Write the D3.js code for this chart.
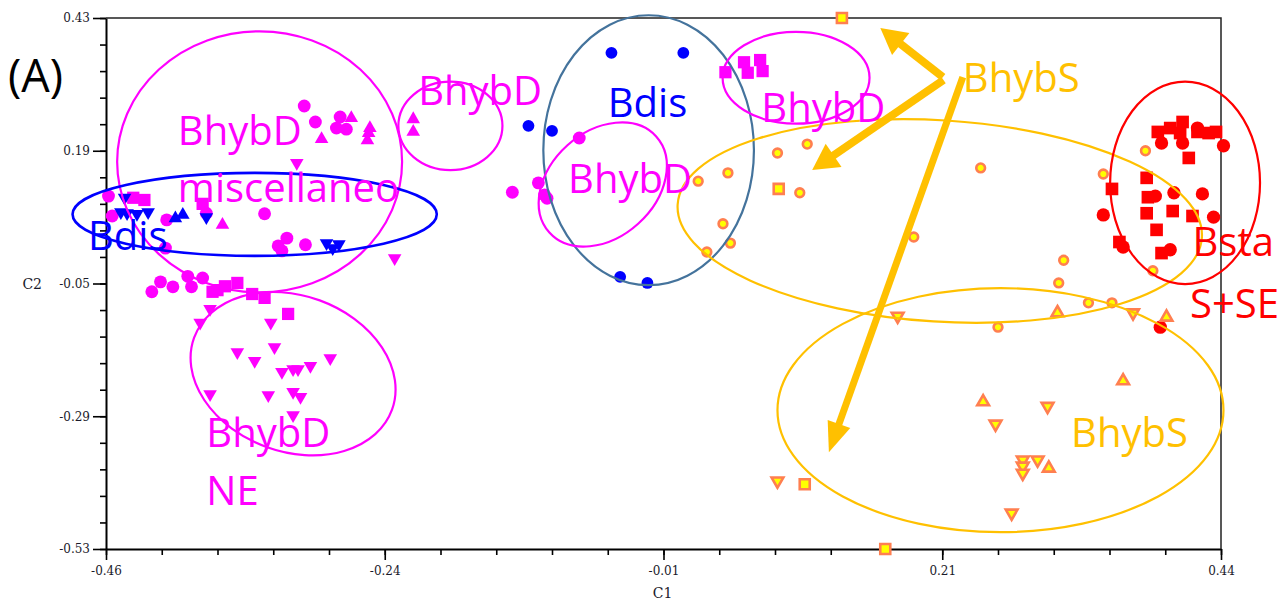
<!DOCTYPE html>
<html>
<head>
<meta charset="utf-8">
<script src="https://cdn.jsdelivr.net/npm/d3@7"></script>
<style>
  body { margin: 0; background: #fff; }
  svg { display: block; }
</style>
</head>
<body>
<svg id="chart" width="1288" height="605"></svg>
<script>
// ---- axis ticks -----------------------------------------------------------
const xMajor = [-0.46, -0.235, -0.01, 0.215, 0.44];
const xMajorLabels = ["-0.46", "-0.24", "-0.01", "0.21", "0.44"];
const yMajor = [0.43, 0.19, -0.05, -0.29, -0.53];
const yMajorLabels = ["0.43", "0.19", "-0.05", "-0.29", "-0.53"];

// ---- scores on C1 / C2, one array per group and marker ---------------------
const bhybDCircle = [
  [-0.300, 0.271], [-0.291, 0.242], [-0.271, 0.251], [-0.274, 0.231], [-0.266, 0.229],
  [-0.458, 0.108], [-0.455, 0.072], [-0.411, 0.065], [-0.379, 0.077], [-0.332, 0.076],
  [-0.321, 0.018], [-0.314, 0.032], [-0.299, 0.020], [-0.318, 0.009], [-0.412, 0.014],
  [-0.416, -0.047], [-0.423, -0.065], [-0.406, -0.056], [-0.394, -0.037], [-0.382, -0.040],
  [-0.391, -0.056], [-0.132, 0.115], [-0.111, 0.132], [-0.106, 0.110], [-0.104, 0.104],
  [-0.078, 0.213]
];
const bhybDSquare = [
  [-0.438, 0.105], [-0.429, 0.101], [-0.382, 0.094], [-0.370, -0.062], [-0.364, -0.055],
  [-0.354, -0.049], [-0.374, -0.065], [-0.342, -0.069], [-0.332, -0.076], [-0.313, -0.105],
  [0.040, 0.332], [0.055, 0.350], [0.058, 0.331], [0.068, 0.354], [0.070, 0.334]
];
const bhybDUp = [
  [-0.262, 0.249], [-0.286, 0.211], [-0.247, 0.231], [-0.248, 0.222], [-0.249, 0.209],
  [-0.366, 0.056], [-0.212, 0.247], [-0.212, 0.224]
];
const bhybDDown = [
  [-0.306, 0.168], [-0.227, -0.004], [-0.376, -0.096], [-0.384, -0.121], [-0.327, -0.121],
  [-0.354, -0.174], [-0.324, -0.165], [-0.340, -0.190], [-0.318, -0.210], [-0.309, -0.205],
  [-0.305, -0.205], [-0.295, -0.199], [-0.279, -0.185], [-0.376, -0.250], [-0.329, -0.252],
  [-0.309, -0.246], [-0.303, -0.255], [-0.309, -0.288]
];
const bdisCircle = [
  [-0.052, 0.367], [0.006, 0.367], [-0.045, -0.038], [-0.023, -0.049], [-0.119, 0.235],
  [-0.100, 0.226]
];
const bdisDown = [
  [-0.445, 0.105], [-0.448, 0.079], [-0.443, 0.077], [-0.435, 0.076], [-0.426, 0.079],
  [-0.379, 0.070], [-0.282, 0.023], [-0.272, 0.021], [-0.277, 0.014]
];
const bdisUp = [[-0.398, 0.074], [-0.404, 0.068]];
const bstaSquare = [
  [0.389, 0.224], [0.399, 0.231], [0.409, 0.242], [0.407, 0.222], [0.421, 0.224],
  [0.430, 0.222], [0.436, 0.224], [0.414, 0.177], [0.380, 0.141], [0.352, 0.121],
  [0.381, 0.106], [0.380, 0.077], [0.401, 0.081], [0.417, 0.072], [0.388, 0.047],
  [0.358, 0.025], [0.392, 0.005]
];
const bstaCircle = [
  [0.392, 0.204], [0.409, 0.204], [0.442, 0.199], [0.421, 0.231], [0.387, 0.108],
  [0.402, 0.114], [0.425, 0.112], [0.345, 0.074], [0.434, 0.070], [0.361, 0.016],
  [0.399, 0.011], [0.391, -0.129]
];
const bhybSCircle = [
  [0.106, 0.202], [0.082, 0.186], [0.042, 0.150], [0.018, 0.135], [0.100, 0.114],
  [0.038, 0.058], [0.044, 0.023], [0.025, 0.007], [0.246, 0.159], [0.192, 0.034],
  [0.345, 0.148], [0.313, -0.008], [0.309, -0.049], [0.333, -0.085], [0.352, -0.085],
  [0.260, -0.129], [0.379, 0.190], [0.385, -0.027]
];
const bhybSSquare = [[0.134, 0.430], [0.083, 0.121], [0.104, -0.413], [0.169, -0.530]];
const bhybSDown = [
  [0.179, -0.109], [0.369, -0.103], [0.082, -0.407], [0.258, -0.304], [0.300, -0.272],
  [0.280, -0.369], [0.280, -0.380], [0.280, -0.393], [0.292, -0.369], [0.271, -0.465]
];
const bhybSUp = [
  [0.308, -0.103], [0.396, -0.111], [0.248, -0.264], [0.361, -0.226], [0.301, -0.384]
];

// ---- group outlines (centre and half-axes in C1 / C2 units, tilt in degrees)
const groupRings = [
  { group: "BhybD", cx: -0.336, cy: 0.170, rx: 0.115, ry: 0.236, tilt: 0 },
  { group: "Bdis", cx: -0.340, cy: 0.075, rx: 0.147, ry: 0.075, tilt: 0 },
  { group: "BhybD", cx: -0.309, cy: -0.213, rx: 0.085, ry: 0.141, tilt: 20 },
  { group: "BhybD", cx: -0.182, cy: 0.235, rx: 0.042, ry: 0.080, tilt: 0 },
  { group: "BdisMid", cx: -0.022, cy: 0.191, rx: 0.085, ry: 0.244, tilt: 0 },
  { group: "BhybD", cx: -0.059, cy: 0.129, rx: 0.058, ry: 0.0955, tilt: -42 },
  { group: "BhybD", cx: 0.097, cy: 0.322, rx: 0.0593, ry: 0.083, tilt: 0 },
  { group: "BhybS", cx: 0.213, cy: 0.063, rx: 0.212, ry: 0.182, tilt: 3.6 },
  { group: "BhybS", cx: 0.262, cy: -0.279, rx: 0.180, ry: 0.2206, tilt: 0 },
  { group: "Bsta", cx: 0.411, cy: 0.132, rx: 0.0605, ry: 0.183, tilt: 0 }
];

// ---- pointers from the BhybS caption (start -> tip, C1 / C2 units)
const pointers = [
  { from: [0.2155, 0.323], to: [0.165, 0.412] },
  { from: [0.216, 0.318], to: [0.110, 0.155] },
  { from: [0.2316, 0.323], to: [0.1235, -0.355] }
];

// ---- captions (left edge and baseline, C1 / C2 units)
const captions = [
  { group: "BhybD", text: "BhybD", x: -0.402, y: 0.200 },
  { group: "BhybD", text: "miscellaneo", x: -0.402, y: 0.097 },
  { group: "Bdis", text: "Bdis", x: -0.4745, y: 0.0105 },
  { group: "BhybD", text: "BhybD", x: -0.208, y: 0.273 },
  { group: "Bdis", text: "Bdis", x: -0.055, y: 0.251 },
  { group: "BhybD", text: "BhybD", x: -0.087, y: 0.114 },
  { group: "BhybD", text: "BhybD", x: 0.069, y: 0.242 },
  { group: "BhybS", text: "BhybS", x: 0.2316, y: 0.296 },
  { group: "Bsta", text: "Bsta", x: 0.417, y: 0.000 },
  { group: "Bsta", text: "S+SE", x: 0.415, y: -0.112 },
  { group: "BhybS", text: "BhybS", x: 0.319, y: -0.346 },
  { group: "BhybD", text: "BhybD", x: -0.379, y: -0.346 },
  { group: "BhybD", text: "NE", x: -0.379, y: -0.450 }
];

// ---- styling --------------------------------------------------------------
const groupColor = {
  BhybD: "#ff00ff", Bdis: "#0000ff", BdisMid: "#44739c", BhybS: "#ffc000", Bsta: "#ff0000"
};
const series = [
  { data: bhybDCircle, shape: "circle", fill: "#ff00ff", size: 130 },
  { data: bhybDSquare, shape: "square", fill: "#ff00ff", size: 150 },
  { data: bhybDUp, shape: "up", fill: "#ff00ff", size: 80 },
  { data: bhybDDown, shape: "down", fill: "#ff00ff", size: 80 },
  { data: bdisCircle, shape: "circle", fill: "#0000ff", size: 110 },
  { data: bdisDown, shape: "down", fill: "#0000ff", size: 80 },
  { data: bdisUp, shape: "up", fill: "#0000ff", size: 80 },
  { data: bstaSquare, shape: "square", fill: "#ff0000", size: 160 },
  { data: bstaCircle, shape: "circle", fill: "#ff0000", size: 140 },
  { data: bhybSCircle, shape: "circle", fill: "#ffff00", stroke: "#ff7f50", size: 60 },
  { data: bhybSSquare, shape: "square", fill: "#ffff00", stroke: "#ff7f50", size: 100 },
  { data: bhybSDown, shape: "down", fill: "#ffff00", stroke: "#ff7f50", size: 60 },
  { data: bhybSUp, shape: "up", fill: "#ffff00", stroke: "#ff7f50", size: 60 }
];

// ---- layout ---------------------------------------------------------------
const svg = d3.select("#chart");
const plot = { left: 106, right: 1221, top: 18, bottom: 549 };

const x = d3.scaleLinear().domain([-0.46, 0.44]).range([plot.left, plot.right]);
const y = d3.scaleLinear().domain([-0.53, 0.43]).range([plot.bottom, plot.top]);

const tickFont = "'DejaVu Serif', serif";

// minor ticks
const xMinor = d3.range(0, 21).map(i => -0.46 + i * 0.045);
const yMinor = d3.range(0, 21).map(i => -0.53 + i * 0.048);

svg.append("g")
  .attr("transform", `translate(0,${plot.bottom})`)
  .call(d3.axisBottom(x).tickValues(xMinor).tickSize(6).tickSizeOuter(0).tickFormat(""))
  .call(g => g.select(".domain").remove())
  .call(g => g.selectAll("line").attr("stroke", "#000").attr("stroke-width", 1.6));

svg.append("g")
  .attr("transform", `translate(${plot.left},0)`)
  .call(d3.axisLeft(y).tickValues(yMinor).tickSize(6).tickSizeOuter(0).tickFormat(""))
  .call(g => g.select(".domain").remove())
  .call(g => g.selectAll("line").attr("stroke", "#000").attr("stroke-width", 1.6));

// major ticks with labels
const xAxis = svg.append("g")
  .attr("transform", `translate(0,${plot.bottom})`)
  .call(d3.axisBottom(x).tickValues(xMajor).tickSize(11).tickSizeOuter(0).tickPadding(6)
    .tickFormat((d, i) => xMajorLabels[i]));
xAxis.select(".domain").attr("stroke", "#000").attr("stroke-width", 2);
xAxis.selectAll("line").attr("stroke", "#000").attr("stroke-width", 1.6);
xAxis.selectAll("text").attr("font-family", tickFont).attr("font-size", 12).attr("fill", "#1a1a2a");

const yAxis = svg.append("g")
  .attr("transform", `translate(${plot.left},0)`)
  .call(d3.axisLeft(y).tickValues(yMajor).tickSize(13).tickSizeOuter(0).tickPadding(3)
    .tickFormat((d, i) => yMajorLabels[i]));
yAxis.select(".domain").attr("stroke", "#000").attr("stroke-width", 2);
yAxis.selectAll("line").attr("stroke", "#000").attr("stroke-width", 1.6);
yAxis.selectAll("text").attr("font-family", tickFont).attr("font-size", 12).attr("fill", "#1a1a2a");

// axis titles
svg.append("text")
  .attr("x", (plot.left + plot.right) / 2 - 1).attr("y", 598)
  .attr("text-anchor", "middle")
  .attr("font-family", tickFont).attr("font-size", 14).attr("fill", "#1a1a2a")
  .text("C1");
svg.append("text")
  .attr("x", 42).attr("y", y(-0.05) + 5)
  .attr("text-anchor", "end")
  .attr("font-family", tickFont).attr("font-size", 14).attr("fill", "#1a1a2a")
  .text("C2");

// plot frame (top and right)
svg.append("path")
  .attr("d", `M${plot.left},${plot.top}H${plot.right}V${plot.bottom}`)
  .attr("fill", "none").attr("stroke", "#222").attr("stroke-width", 1.5);

// ---- markers --------------------------------------------------------------
const shapeType = { circle: d3.symbolCircle, square: d3.symbolSquare, up: d3.symbolTriangle, down: d3.symbolTriangle };
const markers = svg.append("g");
series.forEach(s => {
  const sym = d3.symbol().type(shapeType[s.shape]).size(s.size);
  markers.selectAll(null)
    .data(s.data)
    .enter().append("path")
    .attr("d", sym)
    .attr("transform", d => `translate(${x(d[0])},${y(d[1])})${s.shape === "down" ? " rotate(180)" : ""}`)
    .attr("fill", s.fill)
    .attr("stroke", s.stroke || "none")
    .attr("stroke-width", s.stroke ? 2.6 : 0);
});

// ---- group outlines -------------------------------------------------------
const kx = x(1) - x(0);
const ky = y(0) - y(1);
svg.append("g").selectAll("ellipse")
  .data(groupRings)
  .enter().append("ellipse")
  .attr("transform", d => `translate(${x(d.cx)},${y(d.cy)}) rotate(${d.tilt})`)
  .attr("rx", d => d.rx * kx)
  .attr("ry", d => d.ry * ky)
  .attr("fill", "none")
  .attr("stroke", d => groupColor[d.group])
  .attr("stroke-width", d => d.group === "Bdis" ? 2.6 : 2.2);

// ---- pointers -------------------------------------------------------------
const arrowLayer = svg.append("g");
pointers.forEach((p, i) => {
  const x0 = x(p.from[0]), y0 = y(p.from[1]);
  const x1 = x(p.to[0]), y1 = y(p.to[1]);
  const len = Math.hypot(x1 - x0, y1 - y0);
  const ux = (x1 - x0) / len, uy = (y1 - y0) / len;
  const headLen = i === 2 ? 30 : 26, headHalf = i === 2 ? 12 : 14;
  const bx = x1 - ux * headLen, by = y1 - uy * headLen;
  arrowLayer.append("line")
    .attr("x1", x0).attr("y1", y0).attr("x2", bx + ux * 2).attr("y2", by + uy * 2)
    .attr("stroke", groupColor.BhybS).attr("stroke-width", i === 2 ? 7 : 8);
  arrowLayer.append("path")
    .attr("d", `M${x1},${y1}L${bx - uy * headHalf},${by + ux * headHalf}L${bx + uy * headHalf},${by - ux * headHalf}Z`)
    .attr("fill", groupColor.BhybS);
});

// ---- captions -------------------------------------------------------------
const captionFont = "'Open Sans', Lato, sans-serif";
svg.append("g").selectAll("text")
  .data(captions)
  .enter().append("text")
  .attr("x", d => x(d.x))
  .attr("y", d => y(d.y))
  .attr("font-family", captionFont)
  .attr("font-size", 40)
  .attr("fill", d => groupColor[d.group])
  .text(d => d.text);

svg.append("text")
  .attr("x", 8).attr("y", 92)
  .attr("font-family", captionFont)
  .attr("font-size", 45)
  .attr("fill", "#000")
  .text("(A)");
</script>
</body>
</html>
